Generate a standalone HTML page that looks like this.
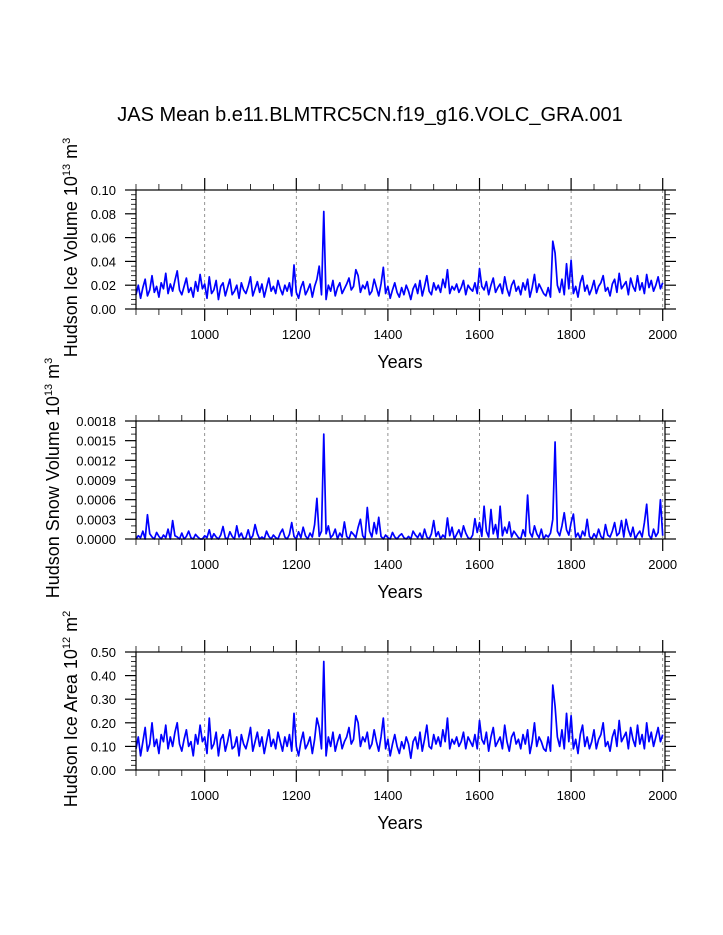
<!DOCTYPE html>
<html><head><meta charset="utf-8">
<style>
html,body{margin:0;padding:0;background:#fff;}
svg{display:block;font-family:"Liberation Sans",Arial,sans-serif;}
</style></head>
<body>
<svg id="chart" width="723" height="935" viewBox="0 0 723 935" xmlns="http://www.w3.org/2000/svg">
<text x="370" y="121" font-size="20" text-anchor="middle">JAS Mean b.e11.BLMTRC5CN.f19_g16.VOLC_GRA.001</text>
</svg>
<script>
// Shared x: one value per 5 years starting at 850
const startYear = 850;
const stepYears = 5;
const xTicks = [1000, 1200, 1400, 1600, 1800, 2000];

// Panel 1: Hudson Ice Volume (x 1e-3)
const iceVolume = [12,20,9,18,25,11,16,28,14,19,10,22,17,30,13,21,15,24,32,16,
12,19,26,14,18,10,23,15,29,17,21,9,27,13,16,24,8,19,22,11,
18,25,12,15,20,9,22,16,13,19,27,11,17,23,14,21,10,18,26,15,
19,13,24,17,12,20,15,22,11,37,14,9,18,23,12,16,21,10,19,25,
36,12,82,8,20,15,24,11,18,22,13,17,21,26,16,19,33,28,14,20,
17,23,12,15,25,18,11,21,35,13,19,9,16,22,14,10,18,12,20,15,
8,17,21,13,24,11,19,28,15,12,22,16,20,14,25,18,33,13,19,16,
21,14,18,24,12,20,17,15,22,13,34,19,16,23,12,20,26,14,18,21,
13,27,17,11,20,24,15,19,12,22,16,25,10,18,29,14,21,17,13,11,
18,10,57,47,20,14,25,12,38,17,41,13,19,10,22,28,15,20,12,17,
24,13,19,22,28,15,18,11,21,25,14,30,17,20,23,12,26,19,15,28,
16,22,13,29,18,24,15,20,27,17,22];
const iceVolumeTicks = ["0.00","0.02","0.04","0.06","0.08","0.10"];

// Panel 2: Hudson Snow Volume (x 1e-5)
const snowVolume = [0,5,2,12,0,37,8,3,0,10,4,0,6,2,15,0,28,5,3,0,
9,0,4,12,2,0,7,3,0,0,5,2,14,0,8,3,0,6,19,2,
0,11,4,0,20,3,9,0,2,14,0,5,22,8,0,3,0,12,4,0,
6,2,0,9,15,3,0,7,25,4,0,11,2,18,5,0,9,3,22,62,
4,12,160,8,20,2,6,15,0,9,3,26,4,0,11,7,2,18,30,5,
0,48,12,3,25,8,33,4,0,6,2,0,10,3,0,5,8,2,0,4,
0,12,6,2,9,0,15,3,0,8,28,4,11,0,6,2,32,5,18,0,
7,14,3,20,9,2,0,6,31,10,25,4,50,12,3,45,8,22,2,50,
5,18,9,26,3,12,7,2,0,14,4,67,10,3,20,8,2,15,0,6,
3,9,30,148,12,5,20,40,14,6,25,38,3,9,0,12,5,30,4,0,
8,2,15,4,0,22,6,3,12,25,5,9,28,3,30,14,4,18,0,7,
12,3,25,53,6,0,15,4,10,60,5];
const snowVolumeTicks = ["0.0000","0.0003","0.0006","0.0009","0.0012","0.0015","0.0018"];

// Panel 3: Hudson Ice Area (x 1e-2)
const iceArea = [9,14,6,12,18,8,11,20,10,13,7,15,12,19,9,14,10,16,20,11,
8,13,17,10,12,6,15,11,19,12,14,7,22,9,11,16,6,13,15,8,
12,17,9,10,14,6,15,11,9,13,18,8,12,16,10,14,7,12,17,10,
13,9,16,12,8,14,10,15,8,24,10,6,12,16,9,11,14,7,13,22,
18,9,46,6,14,10,16,8,12,15,9,12,14,18,11,13,23,20,10,14,
12,16,9,11,17,12,8,14,22,9,13,6,11,15,10,7,12,9,14,11,
5,12,14,9,16,8,13,19,10,9,15,11,14,10,17,12,22,9,13,11,
14,10,12,16,9,14,12,10,15,9,21,13,11,16,8,14,18,10,12,14,
9,19,12,8,14,16,11,13,9,15,11,17,7,12,20,10,14,12,9,8,
14,8,36,27,14,10,17,9,24,12,23,9,13,7,15,19,10,14,9,12,
17,9,13,15,20,10,12,8,14,17,10,21,12,14,16,9,18,13,10,19,
11,15,9,20,12,16,10,14,18,12,15];
const iceAreaTicks = ["0.00","0.10","0.20","0.30","0.40","0.50"];

const NS="http://www.w3.org/2000/svg";
const svg=document.getElementById('chart');
const X0=136,X1=665,YR0=850,YR1=2005;
function xs(yr){return X0+(yr-YR0)*(X1-X0)/(YR1-YR0);}
function mk(tag,attrs,parent){const e=document.createElementNS(NS,tag);for(const k in attrs)e.setAttribute(k,attrs[k]);(parent||svg).appendChild(e);return e;}

function panel(key,top,bottom,data,scale,ticks,ymax,minorPer,title,sup,unit,titleX){
  const g=mk('g',{});
  
  
  const ys=v=>bottom-(v/ymax)*(bottom-top);
  xTicks.forEach(t=>{
    const l=mk('line',{x1:xs(t),x2:xs(t),y1:top,y2:bottom,stroke:'#777','stroke-width':0.8,'stroke-dasharray':'3,3'},g);
    
    
  });
  let d='';
  data.forEach((v,i)=>{d+=(i?'L':'M')+xs(startYear+i*stepYears).toFixed(2)+' '+ys(v*scale).toFixed(2);});
  const p=mk('path',{d:d,fill:'none',stroke:'#0000ff','stroke-width':1.7,'stroke-linejoin':'round'},g);
  
  
  const r=mk('rect',{x:X0,y:top,width:X1-X0,height:bottom-top,fill:'none',stroke:'#000','stroke-width':1.2},g);
  
  
  for(let yr=850;yr<=2000;yr+=50){
    const major=yr%200===0;
    const len=major?12:6;
    mk('line',{x1:xs(yr),x2:xs(yr),y1:top-len,y2:top,stroke:'#000','stroke-width':major?1.2:0.8},g);
    mk('line',{x1:xs(yr),x2:xs(yr),y1:bottom,y2:bottom+len,stroke:'#000','stroke-width':major?1.2:0.8},g);
  }
  xTicks.forEach(t=>{
    const tx=mk('text',{x:xs(t),y:bottom+30,'font-size':13,'text-anchor':'middle'},g);
    tx.textContent=String(t);
    
    
  });
  const n=ticks.length-1;
  for(let i=0;i<=n*minorPer;i++){
    const yy=bottom-i*(bottom-top)/(n*minorPer);
    const major=i%minorPer===0;
    const len=major?11:5;
    mk('line',{x1:X0-len,x2:X0,y1:yy,y2:yy,stroke:'#000','stroke-width':major?1.2:0.8},g);
    mk('line',{x1:X1,x2:X1+len,y1:yy,y2:yy,stroke:'#000','stroke-width':major?1.2:0.8},g);
  }
  ticks.forEach((t,i)=>{
    const yy=bottom-i*(bottom-top)/n;
    const tx=mk('text',{x:116,y:yy+5,'font-size':13,'text-anchor':'end'},g);
    tx.textContent=t;
    
    
  });
  const xt=mk('text',{x:400,y:bottom+59,'font-size':18,'text-anchor':'middle'},g);
  xt.textContent='Years';
  
  
  const cy=(top+bottom)/2-2;
  const yt=mk('text',{x:0,y:0,'font-size':18,'text-anchor':'middle',transform:'translate('+titleX+','+cy+') rotate(-90)'},g);
  
  
  const s1=mk('tspan',{},yt);s1.textContent=title+' 10';
  const s2=mk('tspan',{dy:-7,'font-size':11},yt);s2.textContent=sup;
  const s3=mk('tspan',{dy:7},yt);s3.textContent=' m';
  const s4=mk('tspan',{dy:-7,'font-size':11},yt);s4.textContent=unit;
}
panel('ice-volume',190,309,iceVolume,0.001,iceVolumeTicks,0.10,5,'Hudson Ice Volume','13','3',77);
panel('snow-volume',421,539,snowVolume,0.00001,snowVolumeTicks,0.0018,3,'Hudson Snow Volume','13','3',59);
panel('ice-area',652,770,iceArea,0.01,iceAreaTicks,0.50,5,'Hudson Ice Area','12','2',77);
</script>
</body></html>
